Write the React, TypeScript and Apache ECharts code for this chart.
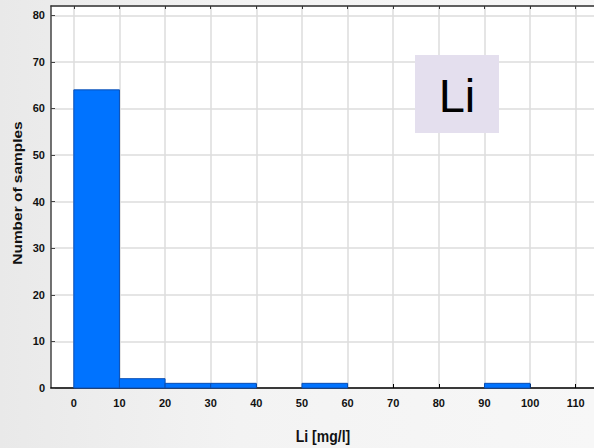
import React, { useEffect, useRef } from "react";
import * as echarts from "echarts";

const binStarts = [0, 10, 20, 30, 50, 90];
const binWidth = 10;
const counts = [64, 2, 1, 1, 1, 1];
const xTicks = [0, 10, 20, 30, 40, 50, 60, 70, 80, 90, 100, 110];
const xTitle = "Li [mg/l]";
const yTitle = "Number of samples";
const badge = "Li";

export default function App() {
  const ref = useRef<HTMLDivElement>(null);
  useEffect(() => {
    if (!ref.current) return;
    const chart = echarts.init(ref.current, null, { renderer: "svg" });
    const data = binStarts.map((s, i) => [s, s + binWidth, counts[i]]);
    const font = "Liberation Sans, Arial, sans-serif";
    const labelFont = {
      fontFamily: font,
      fontWeight: "bold" as const,
      fontSize: 11,
      color: "#111",
    };
    chart.setOption({
      animation: false,
      grid: { left: 51, right: 0, top: 6, bottom: 60, backgroundColor: "#fff", show: true, borderWidth: 0 },
      xAxis: [
        {
          type: "value",
          min: -5,
          max: 114,
          axisLine: { show: true, onZero: false, lineStyle: { color: "#000", width: 1.5 } },
          axisTick: { show: true, inside: true, length: 4, customValues: xTicks, lineStyle: { color: "#000" } },
          axisLabel: { customValues: xTicks, margin: 9, ...labelFont },
          splitLine: { show: true, lineStyle: { color: "#dcdcdc", width: 1.5 } },
        },
        {
          type: "value",
          position: "top",
          min: -5,
          max: 114,
          axisLine: { show: true, onZero: false, lineStyle: { color: "#333", width: 1.5 } },
          axisTick: { show: true, inside: true, length: 3, customValues: xTicks, lineStyle: { color: "#333" } },
          axisLabel: { show: false },
          splitLine: { show: false },
        },
      ],
      yAxis: {
        type: "value",
        min: 0,
        max: 82,
        interval: 10,
        axisLine: { show: true, onZero: false, lineStyle: { color: "#444", width: 1.5 } },
        axisTick: { show: true, inside: true, length: 4, lineStyle: { color: "#444" } },
        axisLabel: { margin: 6, ...labelFont },
        splitLine: { show: true, lineStyle: { color: "#dcdcdc", width: 1.5 } },
      },
      series: [
        {
          type: "custom",
          xAxisIndex: 0,
          yAxisIndex: 0,
          data,
          encode: { x: [0, 1], y: 2 },
          renderItem: (params: any, api: any) => {
            const a = api.coord([api.value(0), api.value(2)]);
            const b = api.coord([api.value(1), 0]);
            return {
              type: "rect",
              shape: { x: a[0], y: a[1], width: b[0] - a[0], height: b[1] - a[1] },
              style: { fill: "#0073ff", stroke: "#0a4fb5", lineWidth: 1 },
            };
          },
        },
      ],
      graphic: [
        {
          type: "rect",
          left: 415,
          top: 55,
          shape: { width: 84, height: 78 },
          style: { fill: "#e4dfee" },
          z: 10,
        },
        {
          type: "text",
          x: 457,
          y: 95,
          style: {
            text: badge,
            fontFamily: font,
            fontSize: 47,
            fill: "#000",
            align: "center",
            verticalAlign: "middle",
          },
          z: 11,
        },
        {
          type: "text",
          x: 18,
          y: 193,
          rotation: Math.PI / 2,
          scaleX: 1.29,
          style: {
            text: yTitle,
            fontFamily: font,
            fontWeight: "bold",
            fontSize: 12,
            fill: "#111",
            align: "center",
            verticalAlign: "middle",
          },
        },
        {
          type: "text",
          x: 323,
          y: 436,
          scaleY: 1.2,
          style: {
            text: xTitle,
            fontFamily: font,
            fontWeight: "bold",
            fontSize: 14,
            fill: "#111",
            align: "center",
            verticalAlign: "middle",
          },
        },
      ],
    });
    return () => chart.dispose();
  }, []);
  return (
    <div
      style={{
        position: "fixed",
        left: 0,
        top: 0,
        width: 594,
        height: 448,
        background: "linear-gradient(to right, #e9e9e9 0%, #f3f3f3 40%, #f7f7f7 100%)",
      }}
    >
      <div ref={ref} style={{ width: 594, height: 448 }} />
    </div>
  );
}
